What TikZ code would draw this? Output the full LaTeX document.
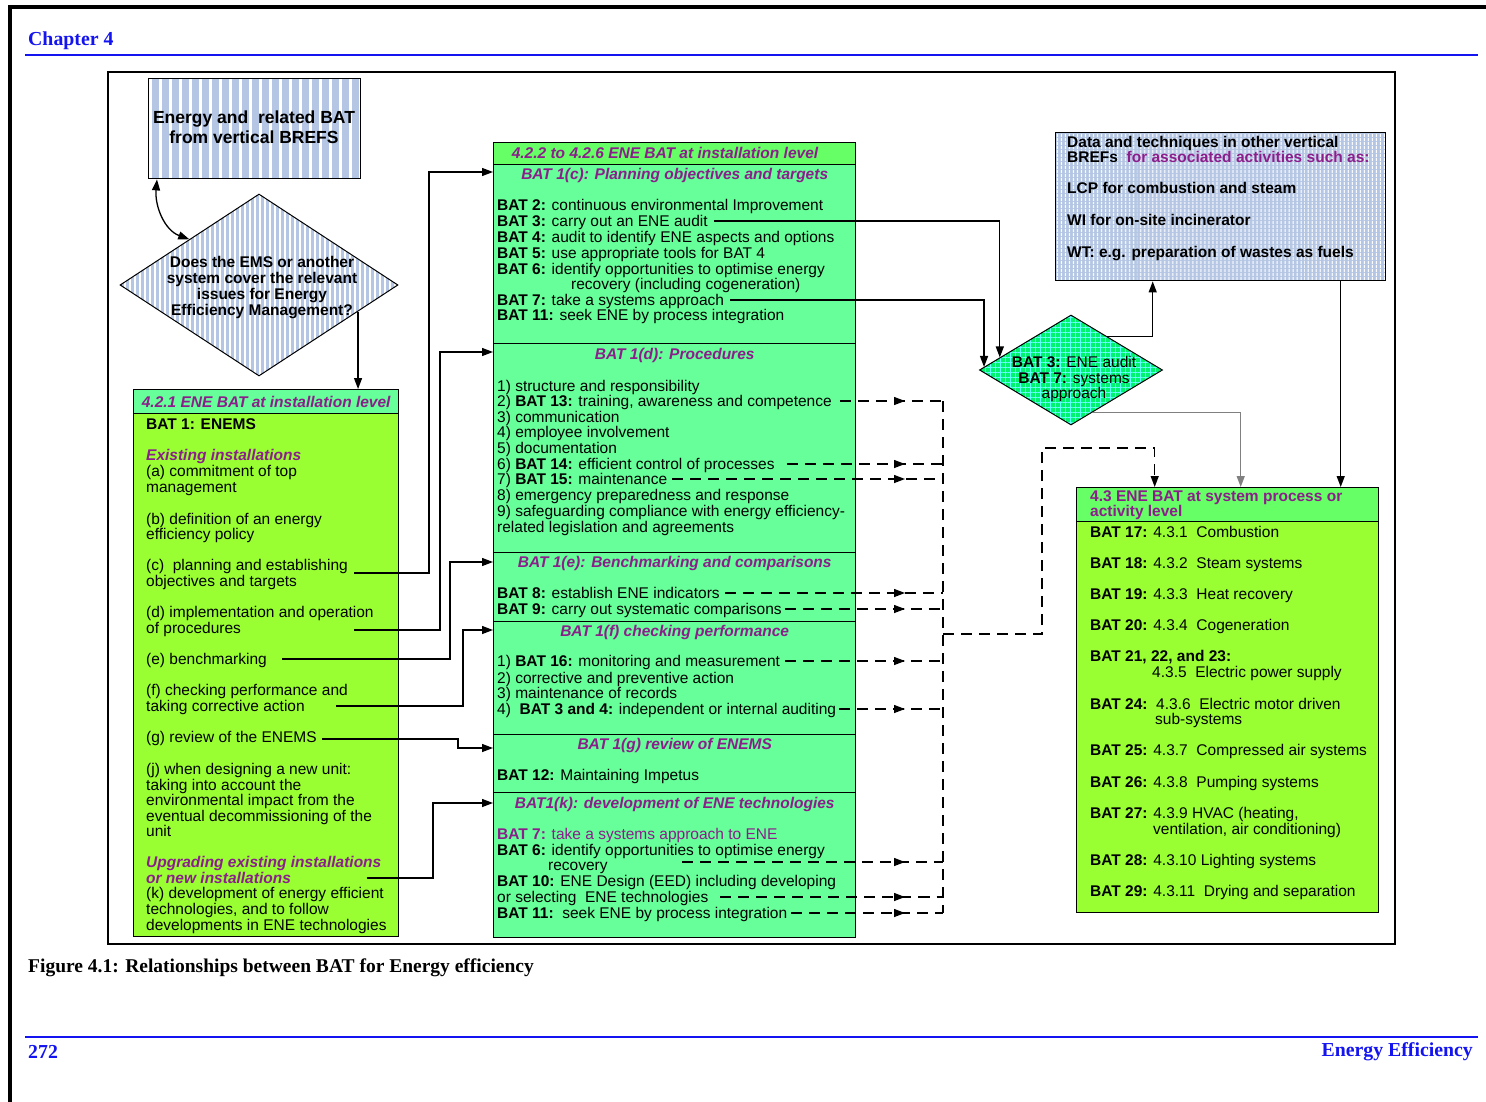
\documentclass[tikz,border=0pt]{standalone}
\usepackage{fontspec}
\setmainfont{Liberation Serif}
\setsansfont{Liberation Sans}
\usetikzlibrary{positioning, shapes.geometric, arrows.meta, patterns.meta, decorations.markings, calc}

\definecolor{batpurple}{RGB}{140,30,140}
\definecolor{limegreen}{RGB}{153,255,51}
\definecolor{mintgreen}{RGB}{102,255,153}
\definecolor{hdrgreen}{RGB}{102,255,102}
\definecolor{brefblue}{RGB}{180,198,228}
\definecolor{diagreen}{RGB}{0,245,110}
\definecolor{pageblue}{RGB}{20,20,240}

\newcommand\bodyfont{\sffamily\fontsize{15.5}{15.7}\selectfont}
\newcommand\pagefont{\rmfamily\bfseries\fontsize{19.8}{21}\selectfont}
\newcommand\subhd[1]{{\color{batpurple}\bfseries\itshape #1}}

\tikzset{
  every node/.style={inner sep=0pt},
  txt/.style={anchor=west, font=\bodyfont, text height=12pt, text depth=1.5pt},
  ttl/.style={font=\bodyfont\bfseries\itshape, text=batpurple, text height=12.5pt, text depth=1.5pt},
  boxed/.style={draw, line width=1.4pt, anchor=north west},
  sect/.style={boxed, fill=mintgreen, minimum width=362pt},
  stripes/.style 2 args={preaction={fill=brefblue},
    preaction={pattern={Lines[angle=90,distance=#1,line width=#2]}, pattern color=white}},
  solidarr/.style={line width=1.3pt, -{Triangle[length=11pt,width=8pt]}},
  dashline/.style={line width=1.3pt, dash pattern=on 11pt off 7pt},
  dasharr/.style={dashline, postaction={decorate},
    decoration={markings, mark=at position -38pt with {\arrow{Triangle[length=11pt,width=8pt]}}}},
}

\begin{document}
\begin{tikzpicture}[x=1pt, y=-1pt]
  \useasboundingbox (0,0) rectangle (1486,1102);
  \fill[white] (0,0) rectangle (1486,1102);

  % page
  \draw[line width=3.5pt] (8,7) -- (1486,7);
  \draw[line width=3.5pt] (10,5) -- (10,1102);
  \node[anchor=west, text=pageblue, font=\pagefont] (chap) at (28,41) {Chapter 4};
  \draw[pageblue, line width=2pt] (25,55) -- (1478,55);
  \draw[line width=1.3pt] (108,72) rectangle (1395,944);
  \node[anchor=west, font=\rmfamily\bfseries\fontsize{19.5}{20}\selectfont] (cap) at (28,968)
    {Figure 4.1: Relationships between BAT for Energy efficiency};
  \draw[pageblue, line width=2pt] (25,1037) -- (1478,1037);
  \node[anchor=west, text=pageblue, font=\pagefont] (pgno) at (28,1052) {272};
  \node[anchor=east, text=pageblue, font=\pagefont] (runhd) at (1473,1052) {Energy Efficiency};

  % vertical BREFs and question
  \node[boxed, stripes={10pt}{3pt}, minimum width=212pt, minimum height=100pt] (topbox) at (148,78) {};
  \node[font=\sffamily\bfseries\fontsize{17.5}{20}\selectfont, align=center] (toptxt) at (254,127)
    {Energy and\ \ related BAT\\from vertical BREFS};
  \node[diamond, draw, line width=1pt, stripes={5pt}{1.5pt}, minimum width=278pt, minimum height=182pt] (ems) at (259,285) {};
  \node[font=\sffamily\bfseries\fontsize{15.5}{16}\selectfont, align=center] (emstxt) at (262,288)
    {Does the EMS or another\\system cover the relevant\\issues for Energy\\Efficiency Management?};

  % 4.2.1
  \node[boxed, fill=mintgreen, minimum width=265pt, minimum height=24pt] (hdrleft) at (133,389) {};
  \node[boxed, fill=limegreen, minimum width=265pt, minimum height=523pt] (bodyleft) at (133,413) {};
  \node[ttl] (ttlleft) at (hdrleft) {4.2.1 ENE BAT at installation level};
  \node[txt] (lb1) at (146,424) {\textbf{BAT 1: ENEMS}};
  \node[txt] (lb2) at (146,455) {\subhd{Existing installations}};
  \node[txt] (lb3) at (146,471) {(a) commitment of top};
  \node[txt] (lb4) at (146,487) {management};
  \node[txt] (lb5) at (146,519) {(b) definition of an energy};
  \node[txt] (lb6) at (146,534) {efficiency policy};
  \node[txt] (lbc1) at (146,565) {(c)\ \ planning and establishing};
  \node[txt] (lbc2) at (146,581) {objectives and targets};
  \node[txt] (lbd1) at (146,612) {(d) implementation and operation};
  \node[txt] (lbd2) at (146,628) {of procedures};
  \node[txt] (lbe) at (146,659) {(e) benchmarking};
  \node[txt] (lbf1) at (146,690) {(f) checking performance and};
  \node[txt] (lbf2) at (146,706) {taking corrective action};
  \node[txt] (lbg) at (146,737) {(g) review of the ENEMS};
  \node[txt] (lbj1) at (146,769) {(j) when designing a new unit:};
  \node[txt] (lbj2) at (146,785) {taking into account the};
  \node[txt] (lbj3) at (146,800) {environmental impact from the};
  \node[txt] (lbj4) at (146,816) {eventual decommissioning of the};
  \node[txt] (lbj5) at (146,831) {unit};
  \node[txt] (lbu1) at (146,862) {\subhd{Upgrading existing installations}};
  \node[txt] (lbu2) at (146,878) {\subhd{or new installations}};
  \node[txt] (lbk1) at (146,893) {(k) development of energy efficient};
  \node[txt] (lbk2) at (146,909) {technologies, and to follow};
  \node[txt] (lbk3) at (146,925) {developments in ENE technologies};

  % 4.2.2 to 4.2.6
  \node[boxed, fill=hdrgreen, minimum width=362pt, minimum height=22pt] (hdrmid) at (493,142) {};
  \node[ttl] (ttlmid) at (665,153) {4.2.2 to 4.2.6 ENE BAT at installation level};
  \node[sect, minimum height=179pt] (sec1c) at (493,164) {};
  \node[sect, minimum height=209pt] (sec1d) at (493,343) {};
  \node[sect, minimum height=69pt] (sec1e) at (493,552) {};
  \node[sect, minimum height=113pt] (sec1f) at (493,621) {};
  \node[sect, minimum height=58pt] (sec1g) at (493,734) {};
  \node[sect, minimum height=145pt] (sec1k) at (493,792) {};

  \node[ttl, below=3pt of sec1c.north] (t1c) {BAT 1(c): Planning objectives and targets};
  \node[txt] (c2) at (497,205) {\textbf{BAT 2:} continuous environmental Improvement};
  \node[txt] (c3) at (497,221) {\textbf{BAT 3:} carry out an ENE audit};
  \node[txt] (c4) at (497,237) {\textbf{BAT 4:} audit to identify ENE aspects and options};
  \node[txt] (c5) at (497,253) {\textbf{BAT 5:} use appropriate tools for BAT 4};
  \node[txt] (c6) at (497,269) {\textbf{BAT 6:} identify opportunities to optimise energy};
  \node[txt] (c6b) at (571,284) {recovery (including cogeneration)};
  \node[txt] (c7) at (497,300) {\textbf{BAT 7:} take a systems approach};
  \node[txt] (c11) at (497,315) {\textbf{BAT 11:} seek ENE by process integration};

  \node[ttl, below=4pt of sec1d.north] (t1d) {BAT 1(d): Procedures};
  \node[txt] (d1) at (497,386) {1) structure and responsibility};
  \node[txt] (d2) at (497,401) {2) \textbf{BAT 13:} training, awareness and competence};
  \node[txt] (d3) at (497,417) {3) communication};
  \node[txt] (d4) at (497,432) {4) employee involvement};
  \node[txt] (d5) at (497,448) {5) documentation};
  \node[txt] (d6) at (497,464) {6) \textbf{BAT 14:} efficient control of processes};
  \node[txt] (d7) at (497,479) {7) \textbf{BAT 15:} maintenance};
  \node[txt] (d8) at (497,495) {8) emergency preparedness and response};
  \node[txt] (d9) at (497,511) {9) safeguarding compliance with energy efficiency-};
  \node[txt] (d9b) at (497,527) {related legislation and agreements};

  \node[ttl, below=3pt of sec1e.north] (t1e) {BAT 1(e): Benchmarking and comparisons};
  \node[txt] (e8) at (497,593) {\textbf{BAT 8:} establish ENE indicators};
  \node[txt] (e9) at (497,609) {\textbf{BAT 9:} carry out systematic comparisons};

  \node[ttl, below=3pt of sec1f.north] (t1f) {BAT 1(f) checking performance};
  \node[txt] (f1) at (497,661) {1) \textbf{BAT 16:} monitoring and measurement};
  \node[txt] (f2) at (497,678) {2) corrective and preventive action};
  \node[txt] (f3) at (497,693) {3) maintenance of records};
  \node[txt] (f4) at (497,709) {4)\ \ \textbf{BAT 3 and 4:} independent or internal auditing};

  \node[ttl, below=3pt of sec1g.north] (t1g) {BAT 1(g) review of ENEMS};
  \node[txt] (g12) at (497,775) {\textbf{BAT 12:} Maintaining Impetus};

  \node[ttl, below=4pt of sec1k.north] (t1k) {BAT1(k): development of ENE technologies};
  \node[txt, text=batpurple] (k7) at (497,834) {\textbf{BAT 7:} take a systems approach to ENE};
  \node[txt] (k6) at (497,850) {\textbf{BAT 6:} identify opportunities to optimise energy};
  \node[txt] (k6b) at (548,865) {recovery};
  \node[txt] (k10) at (497,881) {\textbf{BAT 10:} ENE Design (EED) including developing};
  \node[txt] (k10b) at (497,897) {or selecting\ \ ENE technologies};
  \node[txt] (k11) at (497,913) {\textbf{BAT 11:}\ \ seek ENE by process integration};

  % other vertical BREFs and audit
  \node[boxed, stripes={4pt}{1.3pt}, minimum width=330pt, minimum height=148pt] (databox) at (1055,132) {};
  \node[txt, font=\bodyfont\bfseries] (db1) at (1067,142) {Data and techniques in other vertical};
  \node[txt, font=\bodyfont\bfseries] (db2) at (1067,157) {BREFs\ \ {\color{batpurple}for associated activities such as:}};
  \node[txt, font=\bodyfont\bfseries] (db3) at (1067,188) {LCP for combustion and steam};
  \node[txt, font=\bodyfont\bfseries] (db4) at (1067,220) {WI for on-site incinerator};
  \node[txt, font=\bodyfont\bfseries] (db5) at (1067,252) {WT: e.g. preparation of wastes as fuels};

  \node[diamond, draw, line width=1pt, preaction={fill=diagreen},
    preaction={pattern={Hatch[distance=5pt,line width=0.7pt]}, pattern color=cyan!60},
    minimum width=183pt, minimum height=110pt] (dia37) at (1071,370) {};
  \node[font=\bodyfont, align=center] (diatxt) at (1074,379)
    {\textbf{BAT 3:} ENE audit\\\textbf{BAT 7:} systems\\approach};

  % 4.3
  \node[boxed, fill=hdrgreen, minimum width=302pt, minimum height=34pt] (syshdr) at (1076,487) {};
  \node[boxed, fill=limegreen, minimum width=302pt, minimum height=391pt] (sysbody) at (1076,521) {};
  \node[anchor=north west, font=\bodyfont\bfseries, text=batpurple, align=left] (systtl) at (1090,490)
    {4.3 ENE BAT at system process or\\activity level};
  \node[txt] (s17) at (1090,532) {\textbf{BAT 17:} 4.3.1\ \ Combustion};
  \node[txt] (s18) at (1090,563) {\textbf{BAT 18:} 4.3.2\ \ Steam systems};
  \node[txt] (s19) at (1090,594) {\textbf{BAT 19:} 4.3.3\ \ Heat recovery};
  \node[txt] (s20) at (1090,625) {\textbf{BAT 20:} 4.3.4\ \ Cogeneration};
  \node[txt] (s21) at (1090,656) {\textbf{BAT 21, 22, and 23:}};
  \node[txt] (s21b) at (1152,672) {4.3.5\ \ Electric power supply};
  \node[txt] (s24) at (1090,704) {\textbf{BAT 24:}\ \ 4.3.6\ \ Electric motor driven};
  \node[txt] (s24b) at (1155,719) {sub-systems};
  \node[txt] (s25) at (1090,750) {\textbf{BAT 25:} 4.3.7\ \ Compressed air systems};
  \node[txt] (s26) at (1090,782) {\textbf{BAT 26:} 4.3.8\ \ Pumping systems};
  \node[txt] (s27) at (1090,813) {\textbf{BAT 27:} 4.3.9 HVAC (heating,};
  \node[txt] (s27b) at (1153,829) {ventilation, air conditioning)};
  \node[txt] (s28) at (1090,860) {\textbf{BAT 28:} 4.3.10 Lighting systems};
  \node[txt] (s29) at (1090,891) {\textbf{BAT 29:} 4.3.11\ \ Drying and separation};

  % bends
  \coordinate (kc) at (429,172);
  \coordinate (kd) at (440,352);
  \coordinate (ke) at (450,562);
  \coordinate (kf) at (463,630);
  \coordinate (kg) at (458,748);
  \coordinate (ku) at (433,803);
  \coordinate (bus) at (943,634);
  \coordinate (brk) at (1042,448);
  \coordinate (dbx) at ([xshift=120pt]databox.south);

  % solid connectors
  \draw[line width=1.3pt, {Triangle[length=11pt,width=8pt]}-{Triangle[length=11pt,width=8pt]}]
    ([xshift=9pt]topbox.south west) to[out=-95, in=160] (ems.north west);
  \draw[solidarr] (ems.-15) -- (ems.-15 |- hdrleft.north);
  \draw[solidarr] ([shift={(6pt,-8pt)}]lbc1.east) -| (kc) -- (kc -| sec1c.west);
  \draw[solidarr] ($(lbc1.east |- lbd2.east)+(6pt,-2pt)$) -| (kd) -- (kd -| sec1d.west);
  \draw[solidarr] ([xshift=15pt]lbe.east) -| (ke) -- (ke -| sec1e.west);
  \draw[solidarr] ([xshift=31pt]lbf2.east) -| (kf) -- (kf -| sec1f.west);
  \draw[solidarr] ([shift={(5pt,-2pt)}]lbg.east) -| (kg) -- (kg -| sec1g.west);
  \draw[solidarr] ($(lbu1.east |- lbu2.east)+(-15pt,0pt)$) -| (ku) -- (ku -| sec1k.west);
  \draw[solidarr] ([xshift=6pt]c3.east) -| (dia37.170);
  \draw[solidarr] ([xshift=6pt]c7.east) -| (dia37.178);
  \draw[solidarr] (dia37.43) -| ([xshift=-68pt]databox.south);
  \draw[solidarr, gray] (dia37.-63) -| ([xshift=13pt]syshdr.north);
  \draw[solidarr] (dbx) -- (dbx |- syshdr.north);

  % dashed connectors
  \draw[dasharr] ([xshift=8pt]d2.east) -- (d2 -| bus);
  \draw[dasharr] ([xshift=12pt]d6.east) -- (d6 -| bus);
  \draw[dasharr] ([xshift=5pt]d7.east) -- (d7 -| bus);
  \draw[dasharr] ([xshift=5pt]e8.east) -- (e8 -| bus);
  \draw[dasharr] ([xshift=3pt]e9.east) -- (e9 -| bus);
  \draw[dasharr] ([xshift=5pt]f1.east) -- (f1 -| bus);
  \draw[dasharr] ([xshift=3pt]f4.east) -- (f4 -| bus);
  \draw[dasharr] ([shift={(74pt,3pt)}]k6b.east) coordinate (k6s) -- (k6s -| bus);
  \draw[dasharr] ([xshift=12pt]k10b.east) -- (k10b -| bus);
  \draw[dasharr] ([xshift=4pt]k11.east) -- (k11 -| bus);
  \draw[dashline] (d2 -| bus) -- (k11 -| bus);
  \draw[dashline, -{Triangle[length=11pt,width=8pt]}] (bus) -| (brk) -| ([xshift=-73pt]syshdr.north);
\end{tikzpicture}
\end{document}
